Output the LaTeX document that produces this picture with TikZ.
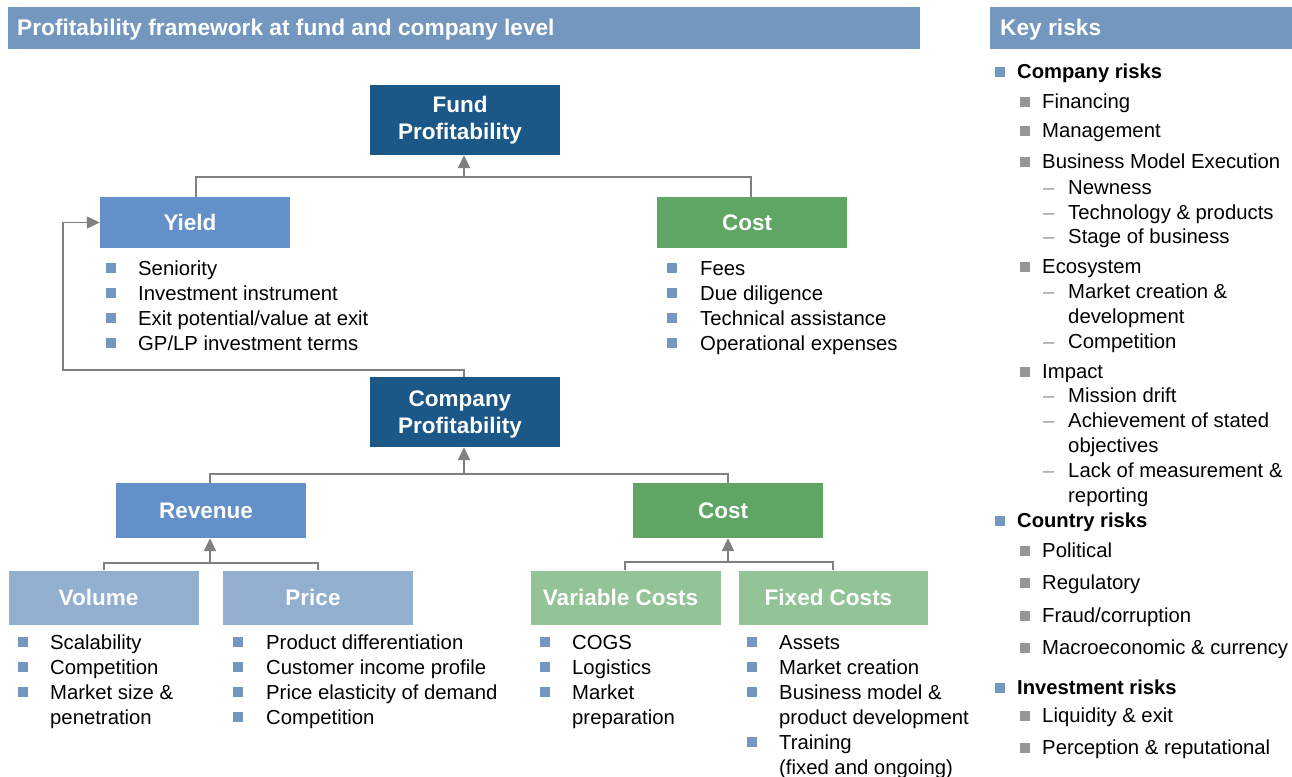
\documentclass[tikz,border=0pt]{standalone}
\usepackage{fontspec}
\setmainfont{Liberation Sans}
\usetikzlibrary{arrows.meta}
\definecolor{barblue}{RGB}{115,151,190}
\definecolor{darkblue}{RGB}{27,87,135}
\definecolor{midblue}{RGB}{100,144,201}
\definecolor{midgreen}{RGB}{95,165,100}
\definecolor{lightblue}{RGB}{147,175,208}
\definecolor{lightgreen}{RGB}{147,196,151}
\definecolor{bulblue}{RGB}{115,151,190}
\definecolor{bulgray}{RGB}{150,150,150}
\definecolor{linegray}{RGB}{128,128,128}
\begin{document}
\begin{tikzpicture}[x=1pt,y=-1pt,
  box/.style={minimum width=190pt, inner sep=0pt},
  lbl/.style={xshift=-5pt, inner sep=0pt, text=white, align=center,
    font=\bfseries\fontsize{22.5}{27}\selectfont},
  bar/.style={fill=barblue, inner sep=0pt, anchor=north west},
  bartext/.style={anchor=base west, inner sep=0pt, text=white, font=\bfseries\fontsize{22.7}{27}\selectfont},
  itm/.style={anchor=base west, inner sep=0pt, align=left, font=\fontsize{20.3}{25}\selectfont},
  bitm/.style={anchor=base west, inner sep=0pt, font=\bfseries\fontsize{20.2}{25}\selectfont},
  bb/.style={fill=bulblue, minimum size=10pt, inner sep=0pt},
  gb/.style={fill=bulgray, minimum size=10pt, inner sep=0pt},
  dsh/.style={anchor=base west, inner sep=0pt, text=bulgray, font=\fontsize{20}{25}\selectfont},
  conn/.style={draw=linegray, line width=1.4pt},
  arr/.style={draw=linegray, line width=2pt, -{Triangle[length=13pt,width=12pt]}},
  farr/.style={conn, -{Triangle[length=13pt,width=12pt]}}
]
\useasboundingbox (0,0) rectangle (1292,776);
\fill[white] (0,0) rectangle (1292,776);

% header bars
\node[bar, minimum width=912pt, minimum height=42pt] (tbar) at (8,7) {};
\node[bartext] (ttext) at (17,36) {Profitability framework at fund and company level};
\node[bar, minimum width=302pt, minimum height=42pt] (kbar) at (990,7) {};
\node[bartext] (ktext) at (1000,36) {Key risks};

% boxes
\node[box, fill=darkblue, minimum height=70pt, label={[lbl]center:{Fund\\Profitability}}] (fund) at (465,120) {};
\node[box, fill=midblue, minimum height=51pt, label={[lbl]center:Yield}] (yield) at (195,222.5) {};
\node[box, fill=midgreen, minimum height=51pt, label={[lbl]center:Cost}] (costf) at (752,222.5) {};
\node[box, fill=darkblue, minimum height=70pt, label={[lbl,yshift=-2pt]center:{Company\\Profitability}}] (comp) at (465,412) {};
\node[box, fill=midblue, minimum height=55pt, label={[lbl]center:Revenue}] (rev) at (211,510.5) {};
\node[box, fill=midgreen, minimum height=55pt, label={[lbl]center:Cost}] (costc) at (728,510.5) {};
\node[box, fill=lightblue, minimum height=54pt, label={[lbl]center:Volume}] (vol) at (103.5,597.5) {};
\node[box, fill=lightblue, minimum height=54pt, label={[lbl]center:Price}] (price) at (318,597.5) {};
\node[box, fill=lightgreen, minimum height=54pt, label={[lbl]center:Variable Costs}] (var) at (625.5,597.5) {};
\node[box, fill=lightgreen, minimum height=54pt, minimum width=189pt, label={[lbl]center:Fixed Costs}] (fix) at (833.5,597.5) {};

% connectors
\coordinate (j1) at (464,177);
\draw[conn] (yield.north -| 196,0) |- (j1) -| (costf.north -| 751,0);
\draw[arr] (j1) -- (fund.south -| j1);
\coordinate (j2) at (464,474);
\draw[conn] (rev.north -| 210,0) |- (j2) -| (costc.north -| 728,0);
\draw[arr] (j2) -- (comp.south -| j2);
\coordinate (j3) at (210,563);
\draw[conn] (vol.north -| 104,0) |- (j3) -| (price.north -| 318,0);
\draw[arr] (j3) -- (rev.south -| j3);
\coordinate (j4) at (728,562);
\draw[conn] (var.north -| 625,0) |- (j4) -| (fix.north -| 833,0);
\draw[arr] (j4) -- (costc.south -| j4);
\coordinate (fb) at (63,370);
\draw[farr] (comp.north -| 464,0) |- (fb) |- (yield.west);

% Yield list
\foreach \t [count=\i] in {Seniority, Investment instrument, Exit potential/value at exit, GP/LP investment terms}{
  \node[bb] (yb\i) at (110.5,{243+25*\i}) {};
  \node[itm] (yt\i) at (138,{250+25*\i}) {\t};
}
% Fund cost list
\foreach \t [count=\i] in {Fees, Due diligence, Technical assistance, Operational expenses}{
  \node[bb] (cb\i) at (671.5,{243+25*\i}) {};
  \node[itm] (ct\i) at (700,{250+25*\i}) {\t};
}
% Volume list (multi-line nodes: base = last line)
\node[bb] (vb1) at (22.5,641.5) {}; \node[itm] (vt1) at (50,649) {Scalability};
\node[bb] (vb2) at (22.5,666.5) {}; \node[itm] (vt2) at (50,674) {Competition};
\node[bb] (vb3) at (22.5,691.5) {}; \node[itm] (vt3) at (50,724) {Market size \&\\penetration};
% Price list
\foreach \t [count=\i] in {Product differentiation, Customer income profile, Price elasticity of demand, Competition}{
  \node[bb] (pb\i) at (238,{616.5+25*\i}) {};
  \node[itm] (pt\i) at (266,{624+25*\i}) {\t};
}
% Variable costs list
\node[bb] (ab1) at (545,641.5) {}; \node[itm] (at1) at (572,649) {COGS};
\node[bb] (ab2) at (545,666.5) {}; \node[itm] (at2) at (572,674) {Logistics};
\node[bb] (ab3) at (545,691.5) {}; \node[itm] (at3) at (572,724) {Market\\preparation};
% Fixed costs list
\node[bb] (fb1) at (752,641.5) {}; \node[itm] (ft1) at (779,649) {Assets};
\node[bb] (fb2) at (752,666.5) {}; \node[itm] (ft2) at (779,674) {Market creation};
\node[bb] (fb3) at (752,691.5) {}; \node[itm] (ft3) at (779,724) {Business model \&\\product development};
\node[bb] (fb4) at (752,741.5) {}; \node[itm] (ft4) at (779,774) {Training\\(fixed and ongoing)};

% Key risks
\node[bb] (kb1) at (1000,72) {}; \node[bitm] (kt1) at (1017,78) {Company risks};
\node[gb] (g1) at (1025,102) {}; \node[itm] (gt1) at (1042,108) {Financing};
\node[gb] (g2) at (1025,131) {}; \node[itm] (gt2) at (1042,137) {Management};
\node[gb] (g3) at (1025,162) {}; \node[itm] (gt3) at (1042,168) {Business Model Execution};
\node[dsh] (d1) at (1043,194) {–}; \node[itm] (dt1) at (1068,194) {Newness};
\node[dsh] (d2) at (1043,219) {–}; \node[itm] (dt2) at (1068,219) {Technology \& products};
\node[dsh] (d3) at (1043,243) {–}; \node[itm] (dt3) at (1068,243) {Stage of business};
\node[gb] (g4) at (1025,267) {}; \node[itm] (gt4) at (1042,273) {Ecosystem};
\node[dsh] (d4) at (1043,298) {–}; \node[itm] (dt4) at (1068,323) {Market creation \&\\development};
\node[dsh] (d5) at (1043,348) {–}; \node[itm] (dt5) at (1068,348) {Competition};
\node[gb] (g5) at (1025,372) {}; \node[itm] (gt5) at (1042,378) {Impact};
\node[dsh] (d6) at (1043,402) {–}; \node[itm] (dt6) at (1068,402) {Mission drift};
\node[dsh] (d7) at (1043,427) {–}; \node[itm] (dt7) at (1068,452) {Achievement of stated\\objectives};
\node[dsh] (d8) at (1043,477) {–}; \node[itm] (dt8) at (1068,502) {Lack of measurement \&\\reporting};
\node[bb] (kb2) at (1000,521) {}; \node[bitm] (kt2) at (1017,527) {Country risks};
\node[gb] (g6) at (1025,551) {}; \node[itm] (gt6) at (1042,557) {Political};
\node[gb] (g7) at (1025,583) {}; \node[itm] (gt7) at (1042,589) {Regulatory};
\node[gb] (g8) at (1025,616) {}; \node[itm] (gt8) at (1042,622) {Fraud/corruption};
\node[gb] (g9) at (1025,648) {}; \node[itm] (gt9) at (1042,654) {Macroeconomic \& currency};
\node[bb] (kb3) at (1000,688) {}; \node[bitm] (kt3) at (1017,694) {Investment risks};
\node[gb] (g10) at (1025,716) {}; \node[itm] (gt10) at (1042,722) {Liquidity \& exit};
\node[gb] (g11) at (1025,748) {}; \node[itm] (gt11) at (1042,754) {Perception \& reputational};
\end{tikzpicture}
\end{document}
